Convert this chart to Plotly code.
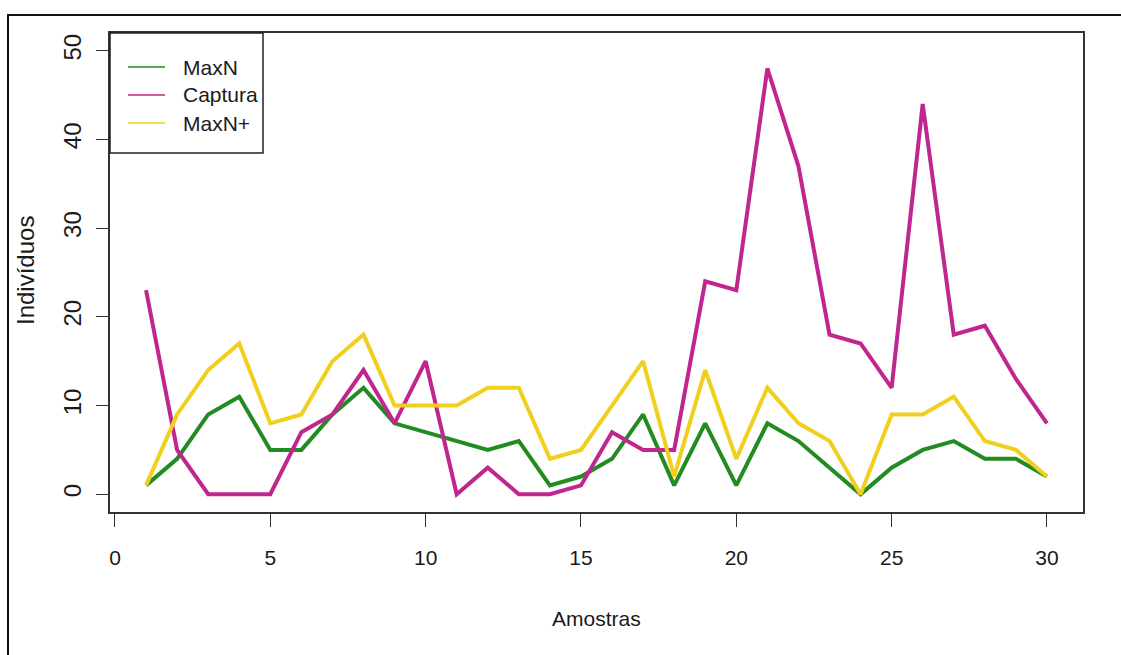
import plotly.graph_objects as go

# ---- data ----
amostras = list(range(1, 31))
maxn = [1, 4, 9, 11, 5, 5, 9, 12, 8, 7, 6, 5, 6, 1, 2, 4, 9, 1, 8, 1, 8, 6, 3, 0, 3, 5, 6, 4, 4, 2]
captura = [23, 5, 0, 0, 0, 7, 9, 14, 8, 15, 0, 3, 0, 0, 1, 7, 5, 5, 24, 23, 48, 37, 18, 17, 12, 44, 18, 19, 13, 8]
maxn_plus = [1, 9, 14, 17, 8, 9, 15, 18, 10, 10, 10, 12, 12, 4, 5, 10, 15, 2, 14, 4, 12, 8, 6, 0, 9, 9, 11, 6, 5, 2]
series_names = ["MaxN", "Captura", "MaxN+"]
series_values = [maxn, captura, maxn_plus]
series_colors = ["#228B22", "#C0268E", "#F0CF1E"]
x_ticks = [0, 5, 10, 15, 20, 25, 30]
y_ticks = [0, 10, 20, 30, 40, 50]
x_title = "Amostras"
y_title = "Indivíduos"

# ---- layout geometry (pixels) ----
W, H = 1121, 655
L, R, T, B = 110, 38, 33, 143
PW, PH = W - L - R, H - T - B


def px(x):
    return (x - L) / PW


def py(y):
    return (H - B - y) / PH


FONT = "Liberation Sans, Arial, sans-serif"
FS_H = 21   # horizontal text
FS_V = 24   # vertical text
TXT = "#1a1a1a"

fig = go.Figure()
for name, vals, col in zip(series_names, series_values, series_colors):
    fig.add_trace(go.Scatter(x=amostras, y=vals, mode="lines", name=name,
                             line=dict(color=col, width=4), showlegend=False))

shapes = []
annotations = []

# outer frame (partially outside the figure, like the cropped reference)
shapes.append(dict(type="rect", xref="paper", yref="paper",
                   x0=px(8), x1=px(W + 50), y0=py(H + 50), y1=py(15),
                   line=dict(color="#111", width=2), layer="below"))

# legend box
shapes.append(dict(type="rect", xref="paper", yref="paper",
                   x0=px(110), x1=px(263), y0=py(153), y1=py(33),
                   line=dict(color="#222", width=1.5), fillcolor="white", layer="above"))
item_y = [67, 95, 123]
for name, col, yy in zip(series_names, series_colors, item_y):
    shapes.append(dict(type="line", xref="paper", yref="paper",
                       x0=px(128), x1=px(165), y0=py(yy), y1=py(yy),
                       line=dict(color=col, width=1.5), layer="above"))
    annotations.append(dict(xref="paper", yref="paper", x=px(181), y=py(yy),
                            xanchor="left", yanchor="middle", showarrow=False,
                            text=name, font=dict(family=FONT, size=FS_H, color=TXT)))

# axis titles
annotations.append(dict(xref="paper", yref="paper", x=0.5, y=py(618),
                        xanchor="center", yanchor="middle", showarrow=False,
                        text=x_title, font=dict(family=FONT, size=FS_H, color=TXT)))
annotations.append(dict(xref="paper", yref="paper", x=px(25), y=py(271),
                        xanchor="center", yanchor="middle", showarrow=False, textangle=-90,
                        text=y_title, font=dict(family=FONT, size=FS_V, color=TXT)))

fig.update_layout(
    width=W, height=H,
    margin=dict(l=L, r=R, t=T, b=B, pad=0),
    paper_bgcolor="white", plot_bgcolor="white",
    showlegend=False,
    shapes=shapes, annotations=annotations,
    font=dict(family=FONT, size=FS_H, color=TXT),
)
fig.update_xaxes(range=[-0.16, 31.16], tickmode="array", tickvals=x_ticks,
                 ticks="outside", ticklen=13, tickwidth=1.2, tickcolor="#333",
                 showline=True, linecolor="#333", linewidth=1.5, mirror=True,
                 showgrid=False, zeroline=False, ticklabelstandoff=13,
                 tickfont=dict(family=FONT, size=FS_H, color=TXT))
fig.update_yaxes(range=[-2, 52], tickmode="array", tickvals=y_ticks,
                 ticks="outside", ticklen=12, tickwidth=1.2, tickcolor="#333",
                 showline=True, linecolor="#333", linewidth=1.5, mirror=True,
                 showgrid=False, zeroline=False, tickangle=-90, ticklabelstandoff=6,
                 tickfont=dict(family=FONT, size=FS_V, color=TXT))

fig.write_html("out.html")
